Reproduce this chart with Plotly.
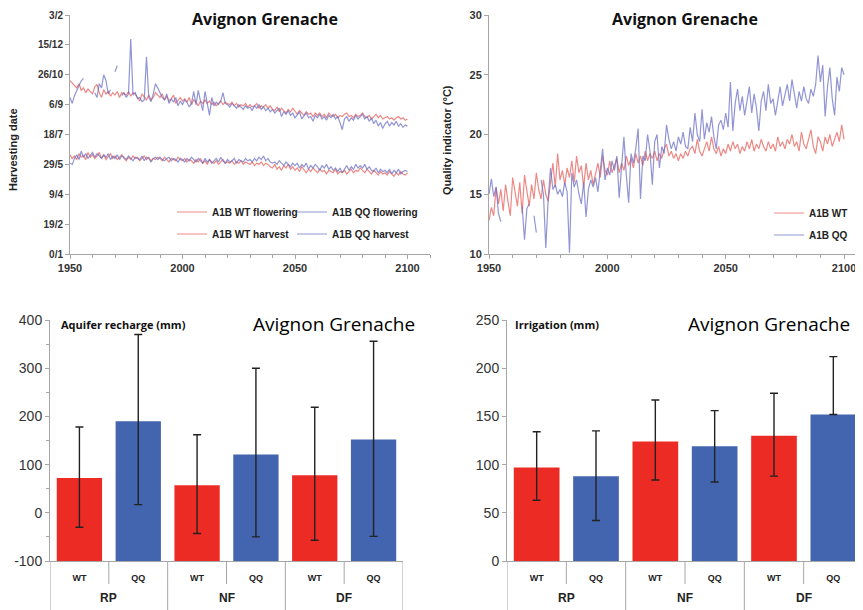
import plotly.graph_objects as go

W, H = 863, 610
PAGE_OFFSET = 8  # the page body margin shifts the figure by this many pixels

years = list(range(1950, 2101))

# ---- Top-left: phenology (day of year) ----
date_tickvals = [0, 50, 100, 150, 200, 250, 300, 350, 400]
date_ticktext = ["0/1", "19/2", "9/4", "29/5", "18/7", "6/9", "26/10", "15/12", "3/2"]

wt_harvest = [
    290, 286, 282, 278, 285, 274, 278, 270, 276, 272,
    268, 280, 284, 270, 262, 275, 268, 272, 264, 270,
    266, 272, 262, 270, 268, 266, 272, 264, 270, 268,
    262, 256, 268, 262, 258, 266, 258, 262, 270, 266,
    262, 268, 258, 264, 256, 260, 266, 252, 258, 262,
    256, 260, 254, 262, 250, 258, 254, 248, 256, 252,
    258, 252, 256, 250, 254, 248, 252, 256, 250, 254,
    252, 250, 254, 248, 252, 246, 250, 248, 252, 246,
    250, 246, 248, 252, 244, 248, 246, 250, 244, 248,
    242, 240, 246, 238, 244, 240, 236, 242, 238, 244,
    238, 234, 240, 236, 232, 238, 234, 236, 230, 236,
    232, 236, 230, 234, 228, 236, 232, 230, 234, 228,
    232, 230, 234, 236, 230, 232, 228, 234, 230, 232,
    236, 230, 228, 232, 226, 230, 234, 228, 232, 226,
    228, 230, 226, 228, 224, 228, 230, 226, 228, 224,
    226]

qq_harvest = [
    262, 252, 265, 275, 282, 290, 294, None, None, None,
    None, 270, 262, 285, 278, 300, 290, 268, 275, None,
    305, 315, None, 265, 270, 262, 268, 360, 266, 270,
    260, 262, 255, 258, 330, 262, 255, 268, 285, 278,
    270, 262, 258, 268, 252, 260, 254, 262, 248, 256,
    250, 258, 254, 246, 252, 272, 250, 274, 256, 240,
    272, 250, 232, 262, 248, 254, 250, 256, 270, 252,
    250, 246, 252, 248, 244, 250, 246, 242, 248, 244,
    246, 240, 248, 244, 250, 242, 246, 240, 244, 238,
    242, 236, 240, 244, 230, 238, 234, 240, 232, 236,
    228, 234, 238, 226, 232, 236, 228, 230, 222, 232,
    228, 234, 226, 230, 224, 232, 228, 234, 226, 230,
    220, 208, 226, 230, 222, 228, 224, 232, 226, 230,
    234, 226, 230, 222, 228, 218, 224, 214, 220, 210,
    218, 222, 214, 220, 216, 222, 214, 218, 212, 216,
    214]

wt_flowering = [
    166, 160, 164, 158, 168, 162, 165, 158, 170, 162,
    166, 160, 164, 170, 160, 166, 158, 164, 168, 160,
    164, 158, 162, 166, 160, 156, 162, 158, 164, 160,
    162, 156, 160, 164, 158, 162, 156, 160, 158, 162,
    160, 156, 162, 158, 154, 160, 158, 156, 162, 158,
    156, 160, 154, 158, 156, 152, 158, 154, 160, 152,
    156, 150, 158, 154, 152, 156, 150, 154, 158, 152,
    154, 152, 156, 150, 154, 152, 156, 150, 154, 152,
    150, 154, 148, 152, 150, 154, 148, 152, 150, 146,
    144, 150, 142, 146, 140, 148, 144, 150, 142, 146,
    140, 144, 138, 146, 140, 136, 142, 138, 144, 140,
    136, 142, 138, 140, 134, 140, 138, 136, 142, 134,
    138, 136, 140, 134, 138, 142, 136, 140, 138, 144,
    140, 136, 142, 138, 134, 140, 136, 132, 138, 134,
    136, 132, 138, 134, 130, 136, 132, 138, 134, 132,
    136]

qq_flowering = [
    152, 150, 160, 166, 158, 172, 162, 168, 160, 166,
    170, 162, 168, 164, 160, 166, 162, 168, 158, 164,
    160, 166, 158, 164, 162, 158, 164, 160, 156, 162,
    160, 158, 164, 156, 162, 160, 154, 160, 162, 158,
    162, 158, 156, 160, 162, 156, 160, 158, 154, 160,
    158, 154, 160, 156, 162, 158, 154, 160, 156, 152,
    160, 154, 158, 152, 156, 160, 154, 162, 156, 152,
    158, 154, 156, 160, 152, 158, 156, 154, 160, 156,
    158, 154, 160, 156, 162, 158, 164, 156, 160, 154,
    152, 154, 150, 156, 152, 148, 154, 150, 146, 152,
    148, 152, 144, 150, 146, 152, 142, 148, 144, 150,
    146, 140, 148, 144, 150, 142, 146, 140, 144, 138,
    144, 136, 142, 148, 140, 146, 142, 150, 144, 148,
    144, 150, 142, 146, 140, 138, 144, 136, 142, 138,
    140, 136, 142, 134, 140, 136, 142, 134, 138, 140,
    138]

# ---- Top-right: quality indicator (°C) ----
wt_quality = [
    12.8, 13.9, 13.2, 15.6, 14.2, 15.4, 13.6, 15.8, 14.4, 13.2,
    16.4, 15.0, 14.0, 16.0, 13.4, 16.6, 15.2, 14.0, 15.8, 14.6,
    16.8, 15.4, 14.6, 16.2, 15.0, 14.4, 16.0, 17.6, 15.6, 18.4,
    16.2, 17.0, 15.8, 17.2, 16.4, 17.8, 16.0, 18.2, 16.8, 17.4,
    15.6, 17.6, 16.2, 17.0, 15.8, 16.8, 17.6, 16.4, 18.2, 17.0,
    16.6, 17.8, 16.8, 17.4, 18.0, 16.8, 17.6, 17.0, 18.2, 17.4,
    18.0, 17.2, 18.4, 17.6, 18.2, 17.4, 18.6, 17.8, 18.4, 18.0,
    18.6, 17.8, 18.4, 18.0, 18.8, 19.2, 18.2, 18.6, 18.0, 18.4,
    17.8, 18.4, 18.0, 18.6, 18.2, 18.8, 19.0, 18.4, 19.6, 18.6,
    18.2, 18.8, 19.4, 18.6, 19.8, 18.8, 18.4, 19.0, 18.2, 18.8,
    18.4, 19.2, 18.6, 19.4, 18.8, 19.2, 18.4, 19.0, 18.6, 19.4,
    18.8, 19.6, 18.6, 19.2, 18.8, 19.6, 19.0, 18.6, 19.4, 18.8,
    19.2, 18.6, 19.8, 19.0, 19.4, 18.8, 19.6, 19.2, 20.0, 19.0,
    19.4, 18.6, 20.2, 19.2, 18.8, 19.6, 20.4, 19.0, 18.4, 19.8,
    19.4, 18.6, 19.8, 19.2, 20.0, 19.0, 19.6, 20.2, 19.4, 20.8,
    19.6]

qq_quality = [
    15.0, 16.3, 14.8, 15.6, 13.4, 12.7, None, None, None, None,
    None, None, None, None, 14.0, 11.2, 13.8, 14.2, None, 13.2,
    11.8, None, 16.2, 15.0, 10.5, 14.6, 17.2, 15.4, 15.8, 15.0,
    15.4, 14.8, 16.0, 15.2, 10.1, 16.8, 15.6, 16.2, 15.0, 14.2,
    16.0, 13.1, 15.4, 16.2, 15.6, 16.4, 15.2, 17.0, 18.8, 16.2,
    17.2, 16.6, 17.8, 17.0, 18.2, 14.7, 17.4, 19.8, 16.6, 14.3,
    18.4, 17.6, 18.8, 20.5, 14.6, 18.2, 17.8, 20.0, 18.6, 15.8,
    19.4, 20.0, 17.2, 19.0, 18.4, 20.8, 19.6, 18.8, 19.4, 18.6,
    19.8, 19.2, 20.2, 19.0, 18.8, 20.6, 19.4, 21.8, 20.0, 19.4,
    22.1, 19.6, 21.0, 20.2, 21.5, 19.8, 18.8, 20.8, 21.2, 20.4,
    21.8, 20.6, 24.4, 20.3, 22.6, 23.8, 22.0, 23.2, 21.6, 22.8,
    24.0, 21.8, 23.4, 22.2, 20.3, 22.8, 23.6, 22.0, 24.2, 22.6,
    23.0, 21.6, 22.8, 24.0, 22.4, 23.2, 24.2, 22.8, 24.6, 23.4,
    22.2, 23.6, 22.8, 24.0, 23.0, 22.6, 23.8, 23.2, 24.2, 26.6,
    24.4, 25.8, 21.5, 24.0, 25.6, 23.0, 21.6, 24.8, 23.6, 25.6,
    25.0]

# ---- Bottom panels ----
groups = ["RP", "NF", "DF"]
subgroups = ["WT", "QQ"]
wt_recharge = [72, 57, 78]
wt_recharge_hi = [178, 162, 219]
wt_recharge_lo = [-30, -43, -57]
qq_recharge = [190, 121, 152]
qq_recharge_hi = [370, 300, 356]
qq_recharge_lo = [17, -50, -49]
recharge_ticks = [-100, 0, 100, 200, 300, 400]

wt_irrig = [97, 124, 130]
wt_irrig_hi = [134, 167, 174]
wt_irrig_lo = [63, 84, 88]
qq_irrig = [88, 119, 152]
qq_irrig_hi = [135, 156, 212]
qq_irrig_lo = [42, 82, 152]
irrig_ticks = [0, 50, 100, 150, 200, 250]

RED_LINE = "rgba(228,92,86,0.72)"
BLUE_LINE = "rgba(104,108,196,0.72)"
RED_BAR = "#EC2B25"
BLUE_BAR = "#4364AE"
AXIS_GRAY = "#a6a6a6"
TICK_FONT = "Liberation Sans"
TITLE_FONT = "Open Sans"


def px_x(p):
    return (p - PAGE_OFFSET) / W


def px_y(p):
    return 1 - (p - PAGE_OFFSET) / H


fig = go.Figure()

# Top-left traces (one legend box per entry, arranged 2x2)
fig.add_trace(go.Scatter(x=years, y=wt_flowering, mode="lines", name="A1B WT flowering",
                         line=dict(color=RED_LINE, width=1.2), xaxis="x", yaxis="y", legend="legend"))
fig.add_trace(go.Scatter(x=years, y=qq_flowering, mode="lines", name="A1B QQ flowering",
                         line=dict(color=BLUE_LINE, width=1.2), xaxis="x", yaxis="y", legend="legend2"))
fig.add_trace(go.Scatter(x=years, y=wt_harvest, mode="lines", name="A1B WT harvest",
                         line=dict(color=RED_LINE, width=1.2), xaxis="x", yaxis="y", legend="legend3"))
fig.add_trace(go.Scatter(x=years, y=qq_harvest, mode="lines", name="A1B QQ harvest",
                         line=dict(color=BLUE_LINE, width=1.2), xaxis="x", yaxis="y", legend="legend4"))

# Top-right traces
fig.add_trace(go.Scatter(x=years, y=wt_quality, mode="lines", name="A1B WT",
                         line=dict(color=RED_LINE, width=1.2), xaxis="x2", yaxis="y2", legend="legend5"))
fig.add_trace(go.Scatter(x=years, y=qq_quality, mode="lines", name="A1B QQ",
                         line=dict(color=BLUE_LINE, width=1.2), xaxis="x2", yaxis="y2", legend="legend6"))

# Bottom bars: categories (group, subgroup) flattened
cat_ids = [f"{g} {s}" for g in groups for s in subgroups]
cat_text = [s for g in groups for s in subgroups]


def interleave(a, b):
    out = []
    for u, v in zip(a, b):
        out += [u, v]
    return out


REC_BASE = recharge_ticks[0]
rec_vals = interleave(wt_recharge, qq_recharge)
rec_hi = interleave(wt_recharge_hi, qq_recharge_hi)
rec_lo = interleave(wt_recharge_lo, qq_recharge_lo)
irr_vals = interleave(wt_irrig, qq_irrig)
irr_hi = interleave(wt_irrig_hi, qq_irrig_hi)
irr_lo = interleave(wt_irrig_lo, qq_irrig_lo)
colors = [RED_BAR, BLUE_BAR] * len(groups)

fig.add_trace(go.Bar(
    x=cat_ids, y=[v - REC_BASE for v in rec_vals], base=REC_BASE,
    marker=dict(color=colors, line=dict(width=0)),
    error_y=dict(type="data", symmetric=False,
                 array=[h - v for h, v in zip(rec_hi, rec_vals)],
                 arrayminus=[v - l for v, l in zip(rec_vals, rec_lo)],
                 color="#222222", thickness=1.4, width=4),
    xaxis="x3", yaxis="y3", showlegend=False))

fig.add_trace(go.Bar(
    x=cat_ids, y=irr_vals,
    marker=dict(color=colors, line=dict(width=0)),
    error_y=dict(type="data", symmetric=False,
                 array=[h - v for h, v in zip(irr_hi, irr_vals)],
                 arrayminus=[v - l for v, l in zip(irr_vals, irr_lo)],
                 color="#222222", thickness=1.4, width=4),
    xaxis="x4", yaxis="y4", showlegend=False))

axis_common = dict(showline=True, linecolor=AXIS_GRAY, linewidth=1, showgrid=False, zeroline=False,
                   ticks="outside", tickcolor=AXIS_GRAY, ticklen=4, ticklabeloverflow="allow")

top_tickfont = dict(family=TICK_FONT, size=11, color="#333333", weight="bold")
cat_axis = dict(type="category", showline=True, linecolor=AXIS_GRAY, linewidth=1, showgrid=False,
                zeroline=False, ticks="", tickvals=cat_ids, ticktext=cat_text,
                ticklabelstandoff=8,
                tickfont=dict(family=TICK_FONT, size=9, color="#222222", weight="bold"))
legend_font = dict(family=TICK_FONT, size=10, color="#222222", weight="bold")


def legend_box(xp, yp, anchor="left"):
    return dict(orientation="h", x=px_x(xp), y=px_y(yp), xanchor=anchor, yanchor="middle",
                bgcolor="rgba(0,0,0,0)", font=legend_font)


fig.update_layout(
    width=W, height=H, margin=dict(l=0, r=0, t=0, b=0, autoexpand=False),
    paper_bgcolor="white", plot_bgcolor="white",
    bargap=0.23,
    xaxis=dict(domain=[px_x(70), px_x(430)], range=[1950, 2110], anchor="y",
               tickvals=[1950, 2000, 2050, 2100], tickfont=top_tickfont,
               minor=dict(dtick=10, tick0=1950, ticks="outside", ticklen=3, tickcolor=AXIS_GRAY),
               **axis_common),
    yaxis=dict(domain=[px_y(254), px_y(15)], range=[0, 400], anchor="x",
               tickvals=date_tickvals, ticktext=date_ticktext,
               tickfont=dict(family=TICK_FONT, size=10, color="#333333", weight="bold"),
               **axis_common),
    xaxis2=dict(domain=[px_x(489), px_x(863)], range=[1950, 2108], anchor="y2",
                tickvals=[1950, 2000, 2050, 2100], tickfont=top_tickfont,
                minor=dict(dtick=10, tick0=1950, ticks="outside", ticklen=3, tickcolor=AXIS_GRAY),
                **axis_common),
    yaxis2=dict(domain=[px_y(254), px_y(15)], range=[10, 30], anchor="x2",
                tickvals=[10, 15, 20, 25, 30], tickfont=top_tickfont,
                **axis_common),
    xaxis3=dict(domain=[px_x(50), px_x(403)], anchor="y3", range=[-0.5, 5.5], **cat_axis),
    yaxis3=dict(domain=[px_y(561), px_y(320)], range=[recharge_ticks[0], recharge_ticks[-1]], anchor="x3",
                tickvals=recharge_ticks, ticktext=[str(v) for v in recharge_ticks],
                tickfont=dict(family=TICK_FONT, size=14, color="#333333"),
                minor=dict(dtick=50, ticks="outside", ticklen=3, tickcolor=AXIS_GRAY),
                **axis_common),
    xaxis4=dict(domain=[px_x(507), px_x(863)], anchor="y4", range=[-0.5, 5.5], **cat_axis),
    yaxis4=dict(domain=[px_y(561), px_y(320)], range=[irrig_ticks[0], irrig_ticks[-1]], anchor="x4",
                tickvals=irrig_ticks, ticktext=[str(v) for v in irrig_ticks],
                tickfont=dict(family=TICK_FONT, size=14, color="#333333"),
                **axis_common),
    legend=legend_box(172, 212),
    legend2=legend_box(292, 212),
    legend3=legend_box(172, 234),
    legend4=legend_box(292, 234),
    legend5=legend_box(853, 213, "right"),
    legend6=legend_box(853, 235, "right"),
)

# Category group dividers and group labels for the two bar panels
shapes = []
annotations = []
n_sub = len(subgroups)
for xa in ("x3", "x4"):
    for gi in range(len(groups) + 1):
        shapes.append(dict(type="line", xref=xa, yref="paper",
                           x0=gi * n_sub - 0.5, x1=gi * n_sub - 0.5,
                           y0=px_y(561), y1=px_y(618), line=dict(color=AXIS_GRAY, width=1)))
    for gi in range(len(groups)):
        shapes.append(dict(type="line", xref=xa, yref="paper",
                           x0=gi * n_sub + 0.5, x1=gi * n_sub + 0.5,
                           y0=px_y(561), y1=px_y(584), line=dict(color=AXIS_GRAY, width=1)))
        annotations.append(dict(text=groups[gi], xref=xa, yref="paper",
                                x=gi * n_sub + (n_sub - 1) / 2, y=px_y(598),
                                showarrow=False, xanchor="center", yanchor="middle",
                                font=dict(family=TICK_FONT, size=12, color="#222222", weight="bold")))

annotations += [
    dict(text="Avignon Grenache", x=px_x(265), y=px_y(19), xref="paper", yref="paper",
         showarrow=False, xanchor="center", yanchor="middle",
         font=dict(family=TITLE_FONT, size=16, color="#111111", weight="bold")),
    dict(text="Avignon Grenache", x=px_x(685), y=px_y(19), xref="paper", yref="paper",
         showarrow=False, xanchor="center", yanchor="middle",
         font=dict(family=TITLE_FONT, size=16, color="#111111", weight="bold")),
    dict(text="Harvesting date", x=px_x(13), y=px_y(150), xref="paper", yref="paper",
         showarrow=False, textangle=-90, xanchor="center", yanchor="middle",
         font=dict(family=TICK_FONT, size=11, color="#222222", weight="bold")),
    dict(text="Quality indicator (°C)", x=px_x(447), y=px_y(140), xref="paper", yref="paper",
         showarrow=False, textangle=-90, xanchor="center", yanchor="middle",
         font=dict(family=TICK_FONT, size=11, color="#222222", weight="bold")),
    dict(text="Aquifer recharge (mm)", x=px_x(59), y=px_y(324), xref="paper", yref="paper",
         showarrow=False, xanchor="left", yanchor="middle",
         font=dict(family=TITLE_FONT, size=11, color="#111111", weight="bold")),
    dict(text="Avignon Grenache", x=px_x(417), y=px_y(324), xref="paper", yref="paper",
         showarrow=False, xanchor="right", yanchor="middle",
         font=dict(family=TITLE_FONT, size=19, color="#000000")),
    dict(text="Irrigation (mm)", x=px_x(513), y=px_y(324), xref="paper", yref="paper",
         showarrow=False, xanchor="left", yanchor="middle",
         font=dict(family=TITLE_FONT, size=11, color="#111111", weight="bold")),
    dict(text="Avignon Grenache", x=px_x(852), y=px_y(324), xref="paper", yref="paper",
         showarrow=False, xanchor="right", yanchor="middle",
         font=dict(family=TITLE_FONT, size=19, color="#000000")),
]
fig.update_layout(annotations=annotations, shapes=shapes)

fig.write_html("out.html")
